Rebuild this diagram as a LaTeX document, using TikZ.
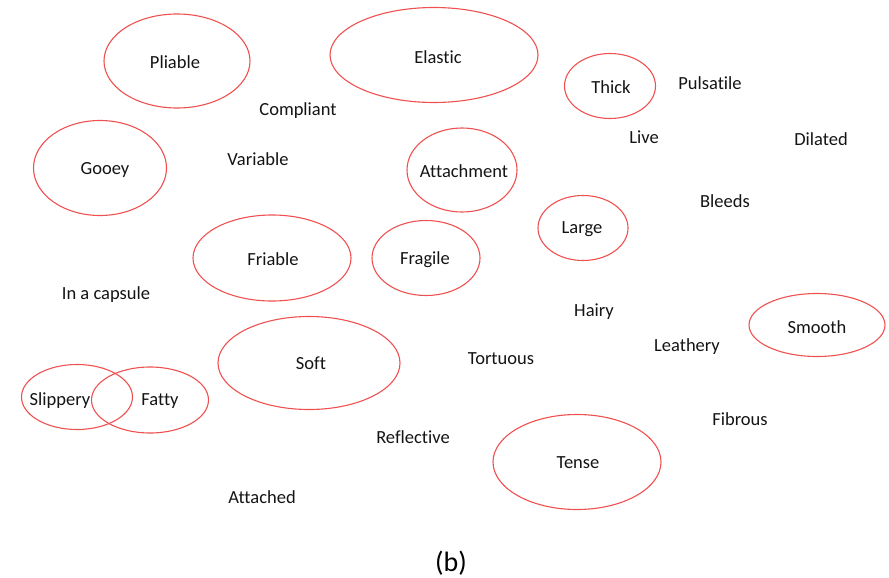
\documentclass[tikz,border=0pt]{standalone}
\usepackage{fontspec}
\setmainfont{Carlito}[Ligatures=NoCommon]
\usetikzlibrary{shapes.geometric}
\definecolor{ringred}{HTML}{EF5050}
\definecolor{wordgray}{HTML}{141414}
\tikzset{
  ring/.style={ellipse, draw=ringred, line width=1.1pt, inner sep=0pt},
  word/.style={text=wordgray, font=\fontsize{18.5}{20}\selectfont, inner sep=0pt, anchor=center},
  caption/.style={text=black, font=\fontsize{28}{32}\selectfont, inner sep=0pt}
}
\begin{document}
\begin{tikzpicture}[x=1pt, y=-1pt]
  \useasboundingbox (0,0) rectangle (889,578);
  % outlines (centre, full width, full height)
  \node[ring, minimum width=146pt, minimum height=94pt] (rPliable) at (177,61) {};
  \node[ring, minimum width=208pt, minimum height=95pt] (rElastic) at (434,55) {};
  \node[ring, minimum width=91pt, minimum height=65pt] (rThick) at (610,86) {};
  \node[ring, minimum width=133pt, minimum height=95pt] (rGooey) at (100,168) {};
  \node[ring, minimum width=110pt, minimum height=84pt] (rAttachment) at (462,170) {};
  \node[ring, minimum width=90pt, minimum height=65pt] (rLarge) at (583,228) {};
  \node[ring, minimum width=158pt, minimum height=86pt] (rFriable) at (272,258) {};
  \node[ring, minimum width=108pt, minimum height=75pt] (rFragile) at (426,258) {};
  \node[ring, minimum width=136pt, minimum height=63pt] (rSmooth) at (817,325) {};
  \node[ring, minimum width=182pt, minimum height=93pt] (rSoft) at (309,363) {};
  \node[ring, minimum width=111pt, minimum height=65pt] (rSlippery) at (77,397) {};
  \node[ring, minimum width=117pt, minimum height=66pt] (rFatty) at (150,400) {};
  \node[ring, minimum width=168pt, minimum height=95pt] (rTense) at (577,462) {};
  % words
  \node[word] (wPliable) at (175,62) {Pliable};
  \node[word] (wElastic) at (438,57) {Elastic};
  \node[word] (wThick) at (611,87) {Thick};
  \node[word] (wPulsatile) at (710,83) {Pulsatile};
  \node[word] (wCompliant) at (298,111) {Compliant};
  \node[word] (wLive) at (644,137) {Live};
  \node[word] (wDilated) at (821,139) {Dilated};
  \node[word] (wGooey) at (105,170) {Gooey};
  \node[word] (wVariable) at (258,159) {Variable};
  \node[word] (wAttachment) at (464,171) {Attachment};
  \node[word] (wBleeds) at (725,201) {Bleeds};
  \node[word] (wLarge) at (582,229) {Large};
  \node[word] (wFriable) at (273,259) {Friable};
  \node[word] (wFragile) at (425,260) {Fragile};
  \node[word] (wCapsule) at (106,295) {In a capsule};
  \node[word] (wHairy) at (594,312) {Hairy};
  \node[word] (wSmooth) at (817,327) {Smooth};
  \node[word] (wLeathery) at (687,347) {Leathery};
  \node[word] (wSoft) at (311,363) {Soft};
  \node[word] (wTortuous) at (501,359) {Tortuous};
  \node[word] (wSlippery) at (60,401) {Slippery};
  \node[word] (wFatty) at (160,401) {Fatty};
  \node[word] (wFibrous) at (740,419) {Fibrous};
  \node[word] (wReflective) at (413,437) {Reflective};
  \node[word] (wTense) at (578,463) {Tense};
  \node[word] (wAttached) at (262,497) {Attached};
  \node[caption] (cap) at (451,563) {(b)};
\end{tikzpicture}
\end{document}
